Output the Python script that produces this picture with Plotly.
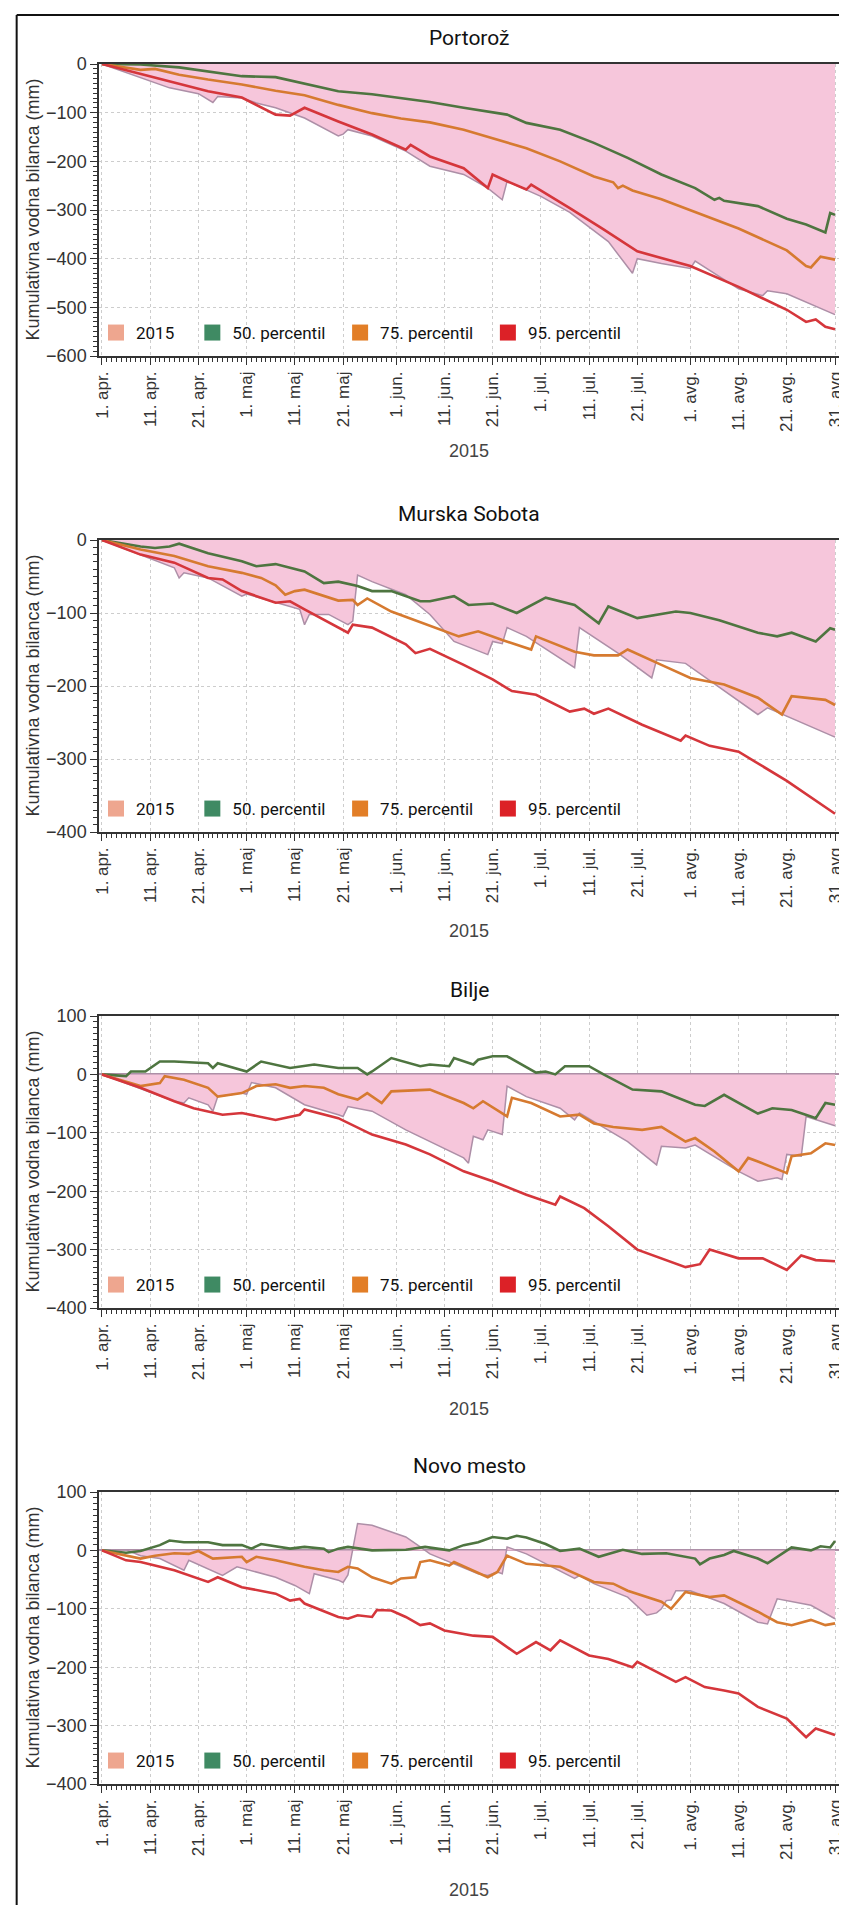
import pandas as pd
import plotly.graph_objects as go

START = pd.Timestamp("2015-04-01")

TICK_DATES = ["2015-04-01", "2015-04-11", "2015-04-21", "2015-05-01", "2015-05-11", "2015-05-21",
              "2015-06-01", "2015-06-11", "2015-06-21", "2015-07-01", "2015-07-11", "2015-07-21",
              "2015-08-01", "2015-08-11", "2015-08-21", "2015-08-31"]
TICK_TEXT = ["1. apr.", "11. apr.", "21. apr.", "1. maj", "11. maj", "21. maj",
             "1. jun.", "11. jun.", "21. jun.", "1. jul.", "11. jul.", "21. jul.",
             "1. avg.", "11. avg.", "21. avg.", "31. avg"]

STATIONS = ["Portorož", "Murska Sobota", "Bilje", "Novo mesto"]
SERIES_NAMES = ["2015", "50. percentil", "75. percentil", "95. percentil"]
Y_RANGES = [[-600, 0], [-400, 0], [-400, 100], [-400, 100]]

# ---------------- Portorož ----------------
POR_2015_DAYS = [0, 14, 20, 22, 23, 24, 29, 32, 36, 42, 49, 50, 51, 56, 63, 68, 75, 80, 83, 84, 88, 91, 97, 101,
                 105, 110, 111, 116, 122, 123, 132, 137, 138, 142, 152]
POR_2015 = [0, -49, -61, -73, -79, -67, -70, -80, -90, -111, -148, -144, -135, -148, -179, -210, -227, -255, -279,
            -241, -258, -272, -305, -335, -365, -430, -400, -410, -420, -405, -462, -476, -466, -472, -515]
POR_P50_DAYS = [0, 8, 16, 22, 29, 36, 42, 49, 56, 62, 68, 75, 84, 88, 95, 102, 109, 116, 123, 127, 128, 129, 136,
                142, 146, 150, 151, 152]
POR_P50 = [0, -1, -7, -15, -25, -27, -41, -56, -62, -70, -78, -90, -104, -121, -135, -162, -193, -227, -255, -279,
           -275, -281, -292, -318, -330, -346, -306, -310]
POR_P75_DAYS = [0, 8, 11, 16, 22, 29, 36, 42, 49, 56, 62, 68, 75, 81, 88, 95, 102, 106, 107, 108, 110, 116, 122,
                132, 142, 146, 147, 149, 152]
POR_P75 = [0, -12, -10, -22, -32, -42, -55, -64, -84, -101, -112, -120, -135, -152, -173, -200, -231, -243, -255,
           -250, -260, -278, -301, -338, -383, -415, -418, -396, -402]
POR_P95_DAYS = [0, 8, 15, 22, 29, 36, 39, 42, 49, 56, 63, 64, 68, 75, 80, 81, 84, 88, 89, 97, 104, 111, 122, 132,
                142, 146, 148, 150, 152]
POR_P95 = [0, -20, -39, -56, -69, -104, -106, -90, -118, -145, -176, -166, -190, -214, -255, -227, -241, -258, -248,
           -296, -340, -385, -415, -458, -505, -530, -525, -540, -545]

# ---------------- Murska Sobota ----------------
MS_2015_DAYS = [0, 15, 16, 17, 22, 29, 30, 36, 41, 42, 43, 47, 51, 52, 53, 56, 63, 68, 73, 80, 81, 83, 84, 88, 98,
                99, 107, 114, 115, 121, 136, 138, 152]
MS_2015 = [0, -38, -52, -45, -52, -77, -74, -86, -95, -116, -102, -102, -116, -111, -48, -57, -75, -102, -139, -157,
           -139, -142, -120, -132, -175, -120, -155, -189, -164, -169, -239, -230, -270]
MS_P50_DAYS = [0, 8, 11, 14, 16, 22, 29, 32, 36, 42, 46, 49, 53, 56, 60, 66, 68, 73, 76, 81, 86, 92, 98, 103, 105,
               111, 119, 122, 128, 136, 140, 143, 148, 151, 152]
MS_P50 = [0, -9, -11, -9, -5, -18, -29, -36, -33, -43, -59, -57, -63, -70, -70, -84, -84, -77, -89, -87, -100, -79,
          -89, -114, -91, -107, -98, -100, -110, -127, -132, -127, -139, -121, -123]
MS_P75_DAYS = [0, 8, 15, 22, 29, 33, 36, 38, 40, 42, 49, 52, 53, 55, 60, 68, 74, 78, 83, 89, 90, 98, 102, 107,
               109, 116, 122, 129, 136, 141, 143, 150, 152]
MS_P75 = [0, -13, -22, -36, -45, -52, -62, -75, -70, -68, -83, -82, -89, -80, -98, -117, -132, -125, -137, -150,
          -132, -153, -158, -158, -150, -171, -189, -198, -216, -239, -214, -219, -226]
MS_P95_DAYS = [0, 8, 15, 22, 25, 29, 36, 39, 42, 49, 51, 52, 56, 63, 65, 68, 75, 81, 85, 90, 97, 100, 102, 105,
               112, 120, 121, 126, 132, 142, 152]
MS_P95 = [0, -20, -31, -52, -54, -70, -86, -84, -95, -120, -127, -116, -120, -143, -155, -149, -171, -191, -207,
          -212, -235, -231, -238, -231, -253, -275, -268, -282, -290, -330, -375]

# ---------------- Bilje ----------------
BIL_2015_DAYS = [0, 15, 17, 18, 22, 23, 24, 29, 30, 31, 36, 39, 42, 49, 50, 51, 56, 63, 68, 75, 76, 77, 79, 80, 83,
                 84, 88, 95, 98, 99, 102, 109, 115, 116, 121, 123, 132, 136, 140, 141, 142, 145, 146, 152]
BIL_2015 = [0, -46, -49, -40, -52, -63, -38, -32, -34, -14, -23, -38, -52, -69, -72, -55, -63, -95, -115, -143,
            -152, -106, -112, -95, -103, -20, -38, -58, -78, -66, -81, -115, -155, -123, -126, -121, -166, -183,
            -177, -180, -137, -140, -72, -88]
BIL_P50_DAYS = [0, 5, 6, 9, 12, 15, 22, 23, 24, 30, 33, 39, 44, 49, 53, 55, 56, 60, 66, 68, 72, 73, 77, 78, 81, 84,
                90, 92, 94, 96, 101, 104, 110, 116, 123, 125, 129, 136, 139, 143, 147, 148, 150, 152]
BIL_P50 = [0, -3, 5, 5, 22, 22, 19, 11, 19, 5, 22, 11, 17, 11, 11, 0, 5, 28, 14, 17, 14, 28, 17, 25, 31, 31, 3, 5,
           0, 14, 14, 0, -26, -29, -52, -54, -35, -67, -58, -61, -72, -75, -49, -52]
BIL_P75_DAYS = [0, 8, 12, 13, 17, 22, 24, 29, 32, 36, 39, 42, 46, 49, 53, 55, 58, 60, 68, 75, 77, 79, 84, 85, 89,
                92, 95, 99, 102, 106, 112, 116, 121, 123, 127, 132, 134, 136, 142, 143, 147, 150, 152]
BIL_P75 = [0, -20, -15, -3, -9, -23, -38, -32, -20, -17, -23, -20, -23, -34, -43, -32, -49, -29, -26, -49, -58,
           -46, -72, -40, -49, -61, -72, -69, -84, -90, -95, -90, -115, -109, -132, -166, -143, -149, -169, -140,
           -135, -118, -121]
BIL_P95_DAYS = [0, 8, 15, 19, 25, 29, 36, 41, 42, 49, 56, 63, 68, 75, 81, 88, 94, 95, 100, 105, 111, 116, 121, 124,
                126, 132, 137, 142, 145, 148, 152]
BIL_P95 = [0, -23, -46, -58, -69, -66, -78, -69, -60, -75, -103, -120, -137, -166, -183, -206, -223, -209, -229,
           -260, -300, -315, -330, -325, -300, -315, -315, -335, -310, -318, -320]

# ---------------- Novo mesto ----------------
NM_2015_DAYS = [0, 5, 8, 12, 17, 18, 25, 28, 36, 40, 43, 44, 49, 50, 51, 53, 56, 63, 66, 68, 73, 78, 80, 82, 83, 84,
                88, 98, 99, 102, 109, 113, 115, 116, 117, 118, 119, 122, 129, 136, 138, 140, 147, 152]
NM_2015 = [0, 1, -9, -14, -34, -17, -43, -28, -46, -60, -74, -40, -51, -55, -42, 46, 43, 23, 6, -6, -23, -40, -43,
           -37, -40, 6, -6, -48, -43, -57, -80, -111, -107, -100, -86, -85, -69, -69, -91, -123, -126, -83, -94, -117]
NM_P50_DAYS = [0, 5, 8, 12, 14, 17, 22, 25, 29, 31, 33, 39, 42, 46, 47, 49, 51, 56, 63, 67, 72, 75, 78, 81, 84, 86,
               88, 92, 95, 99, 103, 108, 112, 117, 123, 124, 126, 129, 131, 136, 138, 140, 143, 147, 149, 151, 152]
NM_P50 = [0, -4, -1, 9, 17, 14, 14, 9, 9, 3, 11, 3, 6, 3, -3, 3, 6, 0, 1, 6, 0, 9, 14, 23, 20, 25, 22, 11, -1, 3,
          -11, 1, -6, -5, -14, -24, -14, -8, -1, -14, -22, -11, 5, 0, 7, 5, 16]
NM_P75_DAYS = [0, 5, 8, 11, 15, 18, 20, 23, 29, 30, 32, 36, 39, 42, 46, 49, 51, 53, 56, 60, 62, 65, 66, 68, 72, 73,
               80, 82, 84, 88, 95, 102, 106, 109, 116, 118, 121, 126, 129, 136, 140, 143, 147, 150, 152]
NM_P75 = [0, -9, -14, -9, -5, -6, -1, -14, -11, -20, -11, -17, -23, -28, -34, -37, -28, -31, -46, -57, -48, -46,
          -20, -17, -26, -20, -46, -37, -9, -23, -28, -54, -57, -69, -88, -100, -71, -80, -77, -105, -123, -128,
          -119, -128, -125]
NM_P95_DAYS = [0, 5, 8, 15, 22, 24, 29, 36, 39, 41, 42, 49, 51, 53, 56, 57, 60, 63, 66, 68, 71, 75, 77, 81, 86, 90,
               93, 95, 101, 105, 110, 111, 115, 119, 121, 125, 129, 132, 136, 142, 146, 148, 152]
NM_P95 = [0, -17, -20, -34, -54, -46, -63, -74, -86, -83, -91, -114, -117, -111, -114, -102, -103, -114, -128,
          -125, -137, -143, -146, -148, -177, -157, -171, -154, -180, -186, -200, -191, -208, -225, -217, -234,
          -240, -245, -268, -288, -320, -305, -316]

PANELS = [
    [(POR_2015_DAYS, POR_2015), (POR_P50_DAYS, POR_P50), (POR_P75_DAYS, POR_P75), (POR_P95_DAYS, POR_P95)],
    [(MS_2015_DAYS, MS_2015), (MS_P50_DAYS, MS_P50), (MS_P75_DAYS, MS_P75), (MS_P95_DAYS, MS_P95)],
    [(BIL_2015_DAYS, BIL_2015), (BIL_P50_DAYS, BIL_P50), (BIL_P75_DAYS, BIL_P75), (BIL_P95_DAYS, BIL_P95)],
    [(NM_2015_DAYS, NM_2015), (NM_P50_DAYS, NM_P50), (NM_P75_DAYS, NM_P75), (NM_P95_DAYS, NM_P95)],
]

# ---------------- styling ----------------
W, H = 847, 1905
ML, MR, MT, MB = 91, 10, 56, 128
PW, PH = W - ML - MR, H - MT - MB
PLOT_H, PITCH = 292, 476
XTITLE_OFFSETS = [95, 99, 101, 106]

PINK = "#F6C6DB"
MAUVE = "#AD8FA7"
LINE_COLORS = [MAUVE, "#4E7540", "#D67A30", "#D5363B"]
SWATCH_COLORS = ["#EEA68F", "#3F8A63", "#E27E27", "#DC2127"]
AXIS_COLOR = "#333333"
TICK_FONT = "Liberation Sans, Arial, sans-serif"
TITLE_FONT = "Roboto, Liberation Sans, sans-serif"
NB = "\u00a0"
LEGEND_PAD = [NB * 3 + "\u2009", NB * 3, NB * 3, ""]


def fx(px):
    return (px - ML) / PW


def fy(py):
    return (H - MB - py) / PH


def to_dates(days):
    return [START + pd.Timedelta(days=d) for d in days]


fig = go.Figure()
layout = dict(
    width=W, height=H, margin=dict(l=ML, r=MR, t=MT, b=MB),
    paper_bgcolor="white", plot_bgcolor="white", showlegend=True,
    annotations=[], shapes=[],
)

x_range = ["2015-03-31 09:10:00", "2015-08-31 19:45:00"]

for k in range(4):
    sfx = "" if k == 0 else str(k + 1)
    xa, ya = "x" + sfx, "y" + sfx
    leg = "legend" if k == 0 else "legend" + str(k + 1)
    top_px = MT + PITCH * k
    bot_px = top_px + PLOT_H
    dom = [fy(bot_px), fy(top_px)]

    for i, (days, vals) in enumerate(PANELS[k]):
        if i == 0:
            fig.add_trace(go.Scatter(
                x=to_dates(days), y=vals, mode="lines", xaxis=xa, yaxis=ya,
                line=dict(color=MAUVE, width=1.5), fill="tozeroy", fillcolor=PINK,
                showlegend=False, hoverinfo="skip"))
        else:
            fig.add_trace(go.Scatter(
                x=to_dates(days), y=vals, mode="lines", xaxis=xa, yaxis=ya,
                line=dict(color=LINE_COLORS[i], width=2.6),
                showlegend=False, hoverinfo="skip"))
    for i, name in enumerate(SERIES_NAMES):
        fig.add_trace(go.Scatter(
            x=[None], y=[None], mode="markers", xaxis=xa, yaxis=ya, name=name + LEGEND_PAD[i],
            marker=dict(symbol="square", size=16, color=SWATCH_COLORS[i]),
            legend=leg, showlegend=True))

    layout["xaxis" + sfx] = dict(
        domain=[0, 1], anchor=ya, type="date", range=x_range,
        tickmode="array", tickvals=TICK_DATES, ticktext=TICK_TEXT, tickangle=-90,
        tickfont=dict(family=TICK_FONT, size=17, color="#333"),
        ticks="outside", ticklen=7, tickwidth=1.2, tickcolor=AXIS_COLOR,
        showline=True, linecolor=AXIS_COLOR, linewidth=1.5, mirror=True,
        showgrid=True, gridcolor="#CDCDCD", griddash="dot", gridwidth=1,
        zeroline=False,
        minor=dict(tickmode="linear", tick0="2015-04-01", dtick=86400000, ticks="outside",
                   ticklen=4, tickwidth=1, tickcolor=AXIS_COLOR, showgrid=False),
    )
    zl = Y_RANGES[k][1] > 0
    layout["yaxis" + sfx] = dict(
        domain=dom, anchor=xa, range=Y_RANGES[k], dtick=100,
        tickfont=dict(family=TICK_FONT, size=18, color="#333"),
        ticks="outside", ticklen=7, tickwidth=1.2, tickcolor=AXIS_COLOR,
        showline=True, linecolor=AXIS_COLOR, linewidth=1.5, mirror=True,
        showgrid=True, gridcolor="#CDCDCD", griddash="dot", gridwidth=1,
        zeroline=zl, zerolinecolor=MAUVE, zerolinewidth=1.5,
        minor=dict(dtick=10, ticks="outside", ticklen=4, tickwidth=1, tickcolor=AXIS_COLOR, showgrid=False),
    )
    layout[leg] = dict(
        orientation="h", x=0, xanchor="left", y=fy(bot_px - 23), yanchor="middle",
        bgcolor="rgba(0,0,0,0)", borderwidth=0, indentation=-3,
        font=dict(family=TITLE_FONT, size=17, color="#111"),
        itemsizing="trace",
    )
    layout["annotations"].append(dict(
        text=STATIONS[k], xref="paper", yref="paper", x=0.5, y=fy(top_px - 26),
        xanchor="center", yanchor="middle", showarrow=False,
        font=dict(family=TITLE_FONT, size=21, color="#111")))
    layout["annotations"].append(dict(
        text="2015", xref="paper", yref="paper", x=0.5, y=fy(bot_px + XTITLE_OFFSETS[k]),
        xanchor="center", yanchor="middle", showarrow=False,
        font=dict(family=TICK_FONT, size=18, color="#444")))
    layout["annotations"].append(dict(
        text="Kumulativna vodna bilanca (mm)", xref="paper", yref="paper",
        x=fx(24), y=(dom[0] + dom[1]) / 2, textangle=-90,
        xanchor="center", yanchor="middle", showarrow=False,
        font=dict(family=TICK_FONT, size=18, color="#333")))

# outer frame (top and left edges visible in the reference)
layout["shapes"].append(dict(type="line", xref="paper", yref="paper",
                             x0=fx(8), x1=fx(847), y0=fy(7), y1=fy(7),
                             line=dict(color="#111", width=2)))
layout["shapes"].append(dict(type="line", xref="paper", yref="paper",
                             x0=fx(8), x1=fx(8), y0=fy(7), y1=fy(1905),
                             line=dict(color="#111", width=2)))

fig.update_layout(**layout)
fig.write_html("out.html")
